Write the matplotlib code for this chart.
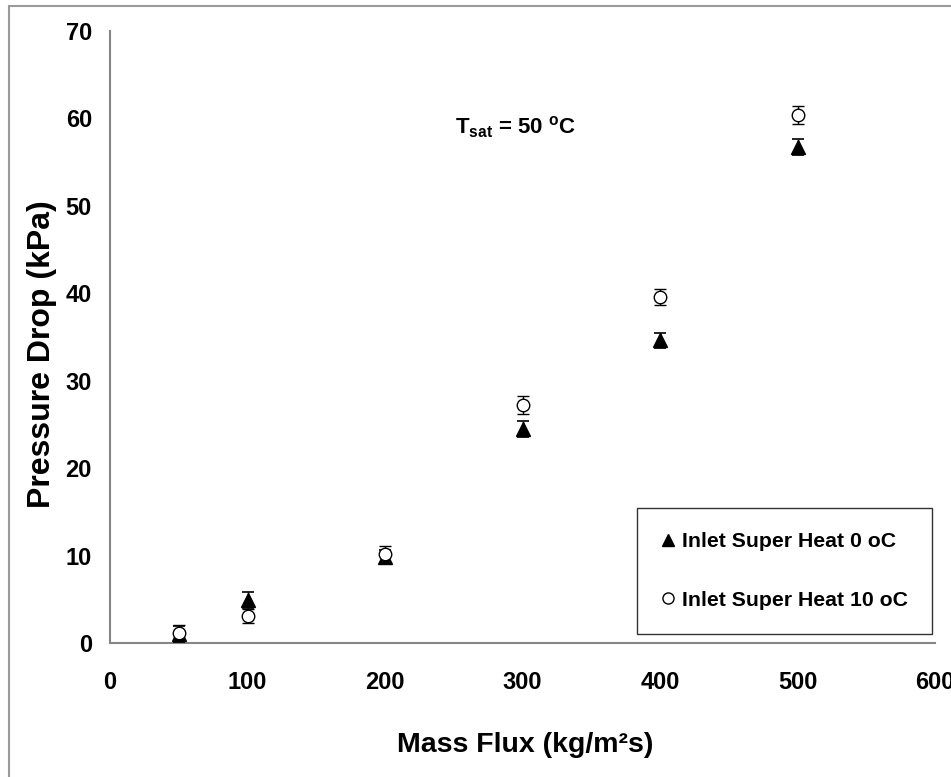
import matplotlib
matplotlib.use("Agg")
import matplotlib.pyplot as plt
from matplotlib.lines import Line2D
from matplotlib.patches import Rectangle

# -----------------------------
# data
# -----------------------------
mass_flux = [50, 100, 200, 300, 400, 500]
dp_sh0 = [1.0, 4.9, 9.8, 24.5, 34.6, 56.7]
dp_sh10 = [1.2, 3.1, 10.2, 27.2, 39.6, 60.4]
err_sh0 = [0.9, 0.9, 0.8, 0.9, 0.9, 0.9]
err_sh10 = [0.9, 0.8, 0.9, 1.0, 0.9, 1.0]
x_ticks = [0, 100, 200, 300, 400, 500, 600]
y_ticks = [0, 10, 20, 30, 40, 50, 60, 70]
labels = ["Inlet Super Heat 0 oC", "Inlet Super Heat 10 oC"]

plt.rcParams['font.family'] = ['Liberation Sans', 'DejaVu Sans']
plt.rcParams['font.weight'] = 'bold'
plt.rcParams['mathtext.fontset'] = 'custom'
plt.rcParams['mathtext.bf'] = 'Liberation Sans:bold'
plt.rcParams['mathtext.default'] = 'bf'

fig = plt.figure(figsize=(9.51, 7.77), dpi=100)
ax = fig.add_axes([110 / 951, 1 - 643 / 777, 825 / 951, 612 / 777])

ax.errorbar(mass_flux, dp_sh0, yerr=err_sh0, fmt='^', color='black',
            markersize=9.5, capsize=4.3, elinewidth=1, capthick=1.2, zorder=3)
ax.errorbar(mass_flux, dp_sh10, yerr=err_sh10, fmt='o', color='black',
            mfc='white', mec='black', mew=1, markersize=9, capsize=4.3,
            elinewidth=1, capthick=1.2, zorder=4)

ax.set_xlim(0, 600)
ax.set_ylim(0, 70)
ax.set_xticks(x_ticks)
ax.set_yticks(y_ticks)
ax.tick_params(axis='both', length=0, labelsize=17)
ax.tick_params(axis='x', pad=20)
ax.tick_params(axis='y', pad=13)

for side in ['top', 'right']:
    ax.spines[side].set_visible(False)
for side in ['left', 'bottom']:
    ax.spines[side].set_color('#868686')
    ax.spines[side].set_linewidth(1.5)

ax.set_xlabel("Mass Flux (kg/m²s)", fontsize=20.5, fontweight='bold')
ax.xaxis.set_label_coords((525 - 110) / 825, -(732 - 643) / 612)
ax.set_ylabel("Pressure Drop (kPa)", fontsize=23, fontweight='bold')
ax.yaxis.set_label_coords((57 - 110) / 825, (643 - 354) / 612)

ax.text(295, 59.0, r"T$_{\mathregular{sat}}$ = 50 $^{\mathregular{o}}$C",
        fontsize=16, fontweight='bold', ha='center', va='center')

handles = [
    Line2D([], [], marker='^', ls='none', color='black', markersize=8),
    Line2D([], [], marker='o', ls='none', mfc='white', mec='black', mew=1, markersize=8),
]
leg = ax.legend(handles, labels, loc='lower right',
                bbox_to_anchor=(932 / 951, 1 - 634 / 777), bbox_transform=fig.transFigure,
                fontsize=15.3, frameon=True, fancybox=False, borderpad=1.15,
                labelspacing=1.85, handlelength=0.6, handletextpad=0.35,
                borderaxespad=0)
leg.get_frame().set_edgecolor('black')
leg.get_frame().set_linewidth(1)

# figure border
fig.add_artist(Rectangle((8.5 / 951, -0.1), 2, 1 - 6.5 / 777 + 0.1,
                         transform=fig.transFigure, fill=False,
                         edgecolor='#9a9a9a', linewidth=1.5))

fig.savefig("out.png", dpi=100)
